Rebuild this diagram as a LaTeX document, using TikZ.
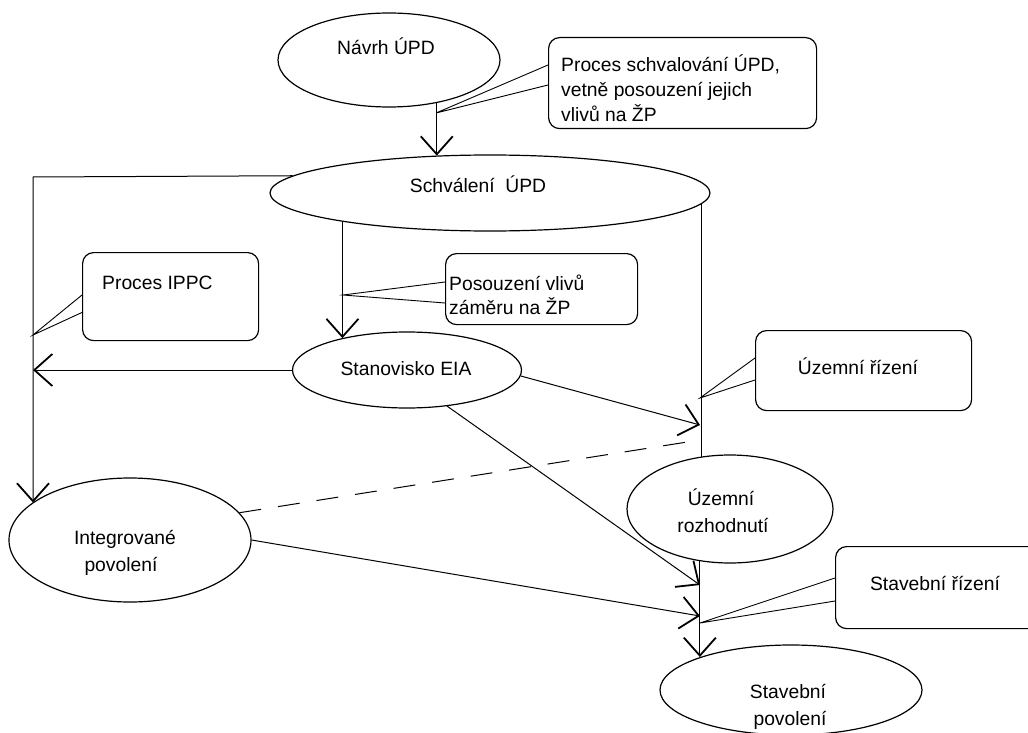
\documentclass[tikz,border=0pt]{standalone}
\usepackage{fontspec}
\setmainfont{Liberation Sans}
\usetikzlibrary{shapes.geometric,arrows.meta}
\begin{document}
\begin{tikzpicture}[x=1pt,y=-1pt,
  every node/.style={font=\fontsize{19.3}{26}\selectfont, inner sep=0pt},
  oval/.style={ellipse, draw, line width=1.2pt, inner sep=0pt},
  callbox/.style={rounded corners=11pt, draw, line width=1.2pt, inner sep=0pt, anchor=north west},
  ctext/.style={anchor=base},
  ltext/.style={anchor=base west},
  conn/.style={line width=1pt},
  arr/.style={conn, -{Straight Barb[length=18pt,width=32pt,line width=1.8pt]}},
  lead/.style={line width=0.9pt},
  dashconn/.style={conn, dash pattern=on 22pt off 17pt}
]
\useasboundingbox (0,0) rectangle (1028,733);

% ellipses
\node[oval, minimum width=222, minimum height=94] (navrh) at (389,60) {};
\node[ctext] (navrhT) at (386,55) {Návrh ÚPD};
\node[oval, minimum width=440, minimum height=76] (schval) at (490,193) {};
\node[ctext] (schvalT) at (478,192) {Schválení\ \ ÚPD};
\node[oval, minimum width=229, minimum height=76] (stan) at (407,370) {};
\node[ctext] (stanT) at (406,375) {Stanovisko EIA};
\node[oval, minimum width=242, minimum height=124] (integ) at (130,540) {};
\node[ctext] (integT1) at (125,544) {Integrované};
\node[ctext] (integT2) at (121,571) {povolení};
\node[oval, minimum width=206, minimum height=108] (uzroz) at (730,509) {};
\node[ctext] (uzrozT1) at (721,505) {Územní};
\node[ctext] (uzrozT2) at (723,532) {rozhodnutí};
\node[oval, minimum width=262, minimum height=90] (stpov) at (791,690) {};
\node[ctext] (stpovT1) at (788,698) {Stavební};
\node[ctext] (stpovT2) at (790,725) {povolení};

% callout boxes
\node[callbox, minimum width=268, minimum height=91] (b1) at (548,37) {};
\node[ltext] (b1a) at (561,72) {Proces schvalování ÚPD,};
\node[ltext] (b1b) at (561,97) {vetně posouzení jejich};
\node[ltext] (b1c) at (561,122) {vlivů na ŽP};
\node[callbox, minimum width=192, minimum height=71] (bpos) at (445,253) {};
\node[ltext] (bposa) at (449,290) {Posouzení vlivů};
\node[ltext] (bposb) at (449,314) {záměru na ŽP};
\node[callbox, minimum width=176, minimum height=88] (bippc) at (82,252) {};
\node[ltext] (bippcT) at (102,289) {Proces IPPC};
\node[callbox, minimum width=216, minimum height=80] (buz) at (755,330) {};
\node[ctext] (buzT) at (858,374) {Územní řízení};
\node[callbox, minimum width=220, minimum height=82] (bst) at (835,546) {};
\node[ctext] (bstT) at (935,590) {Stavební řízení};

% junction coordinates
\coordinate (k1) at (33,177);
\coordinate (c1) at (436,113);
\coordinate (c2) at (343,295);
\coordinate (c3) at (33,335);
\coordinate (c4) at (700,398);
\coordinate (c5) at (700,623);
\coordinate (t1) at (700,425);
\coordinate (d1) at (700,440);
\coordinate (t2) at (700,585);
\coordinate (t3) at (700,616);

% main connectors
\draw[arr] (navrh.-42) -- (navrh.-42 |- schval.146);
\draw[arr] (schval.175) -- (k1) -- (k1 |- integ.159);
\draw[arr] (schval.-169) -- (schval.-169 |- stan.154);
\draw[conn] (schval.-3) -- (schval.-3 |- uzroz.120);
\draw[arr] (stan.west) -- (stan.west -| k1);
\draw[arr] (stan.-3) -- (t1);
\draw[dashconn] (integ.14) -- (d1);
\draw[arr] (stan.-42) -- (t2);
\draw[arr] (integ.east) -- (t3);
\draw[arr] (uzroz.-120) -- (uzroz.-120 |- stpov.160);

% callout leaders
\draw[lead] ([yshift=-28pt]b1.north west) -- (c1) -- ([yshift=-48pt]b1.north west);
\draw[lead] ([yshift=-29pt]bpos.north west) -- (c2) -- ([yshift=-50pt]bpos.north west);
\draw[lead] ([yshift=-43pt]bippc.north west) -- (c3) -- ([yshift=-60pt,xshift=1pt]bippc.north west);
\draw[lead] ([yshift=-28pt]buz.north west) -- (c4) -- ([yshift=-50pt]buz.north west);
\draw[lead] ([yshift=-32pt]bst.north west) -- (c5) -- ([yshift=-55pt]bst.north west);
\end{tikzpicture}
\end{document}
